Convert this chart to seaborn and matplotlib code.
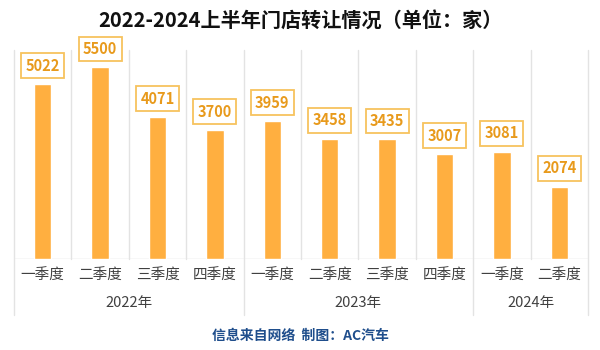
import matplotlib
matplotlib.use("Agg")
import matplotlib.pyplot as plt
import matplotlib.transforms as mtransforms
import seaborn as sns
import pandas as pd

years = ["2022年", "2022年", "2022年", "2022年",
         "2023年", "2023年", "2023年", "2023年",
         "2024年", "2024年"]
quarters = ["一季度", "二季度", "三季度", "四季度",
            "一季度", "二季度", "三季度", "四季度",
            "一季度", "二季度"]
values = [5022, 5500, 4071, 3700, 3959, 3458, 3435, 3007, 3081, 2074]
title = "2022-2024上半年门店转让情况（单位：家）"
source = "信息来自网络  制图：AC汽车"

sns.set_theme(style="white")
plt.rcParams['font.family'] = ['Noto Sans CJK SC', 'DejaVu Sans']

df = pd.DataFrame({"key": [y + q for y, q in zip(years, quarters)],
                   "quarter": quarters, "year": years, "value": values})

fig = plt.figure(figsize=(6, 3.5), dpi=100)
ax = fig.add_axes([14 / 600, 1 - 259 / 350, (588 - 14) / 600, (259 - 50) / 350])

bar_color = "#FFAF40"
sns.barplot(data=df, x="key", y="value", color=bar_color, width=0.3,
            saturation=1, ax=ax)

ax.set_ylim(0, 6000)
n = len(values)
ax.set_xlim(-0.5, n - 0.5)
ax.set_yticks([])
ax.set_xlabel("")
ax.set_ylabel("")
ax.set_xticks(range(n))
ax.set_xticklabels(quarters, fontsize=10.5, color="#404040", fontweight="medium")
ax.tick_params(axis="x", length=0, pad=7)
for s in ax.spines.values():
    s.set_visible(False)
ax.axhline(0, color="#D9D9D9", lw=1, zorder=0)

grid_c = "#E3E3E3"
trans = mtransforms.blended_transform_factory(ax.transData, ax.transAxes)
year_bounds = [-0.5]
for i in range(1, n):
    if years[i] != years[i - 1]:
        year_bounds.append(i - 0.5)
year_bounds.append(n - 0.5)
for i in range(n + 1):
    xb = i - 0.5
    bottom = -0.27 if xb in year_bounds else 0.0
    ax.plot([xb, xb], [1.0, bottom], transform=trans, color=grid_c,
            lw=1, clip_on=False, zorder=0)

for a, b in zip(year_bounds[:-1], year_bounds[1:]):
    yr = years[int(a + 0.5)]
    ax.text((a + b) / 2, -0.21, yr, transform=trans, ha="center",
            va="center", fontsize=10.5, color="#404040", fontweight="medium")

for i, v in enumerate(values):
    ax.annotate(f"{v}", (i, v), xytext=(0, 7.5), textcoords="offset points",
                ha="center", va="bottom", fontsize=10.5, fontweight="bold",
                color="#E89A1C",
                bbox=dict(boxstyle="square,pad=0.3", fc="white",
                          ec="#F7C35E", lw=1.3))

fig.text(0.5, 1 - 20 / 350, title, ha="center", va="center", fontsize=14.5,
         fontweight="black", color="#111111")
fig.text(0.5, 1 - 336 / 350, source, ha="center", va="center", fontsize=10,
         fontweight="bold", color="#1F4E8C")

fig.savefig("out.png", dpi=100)
